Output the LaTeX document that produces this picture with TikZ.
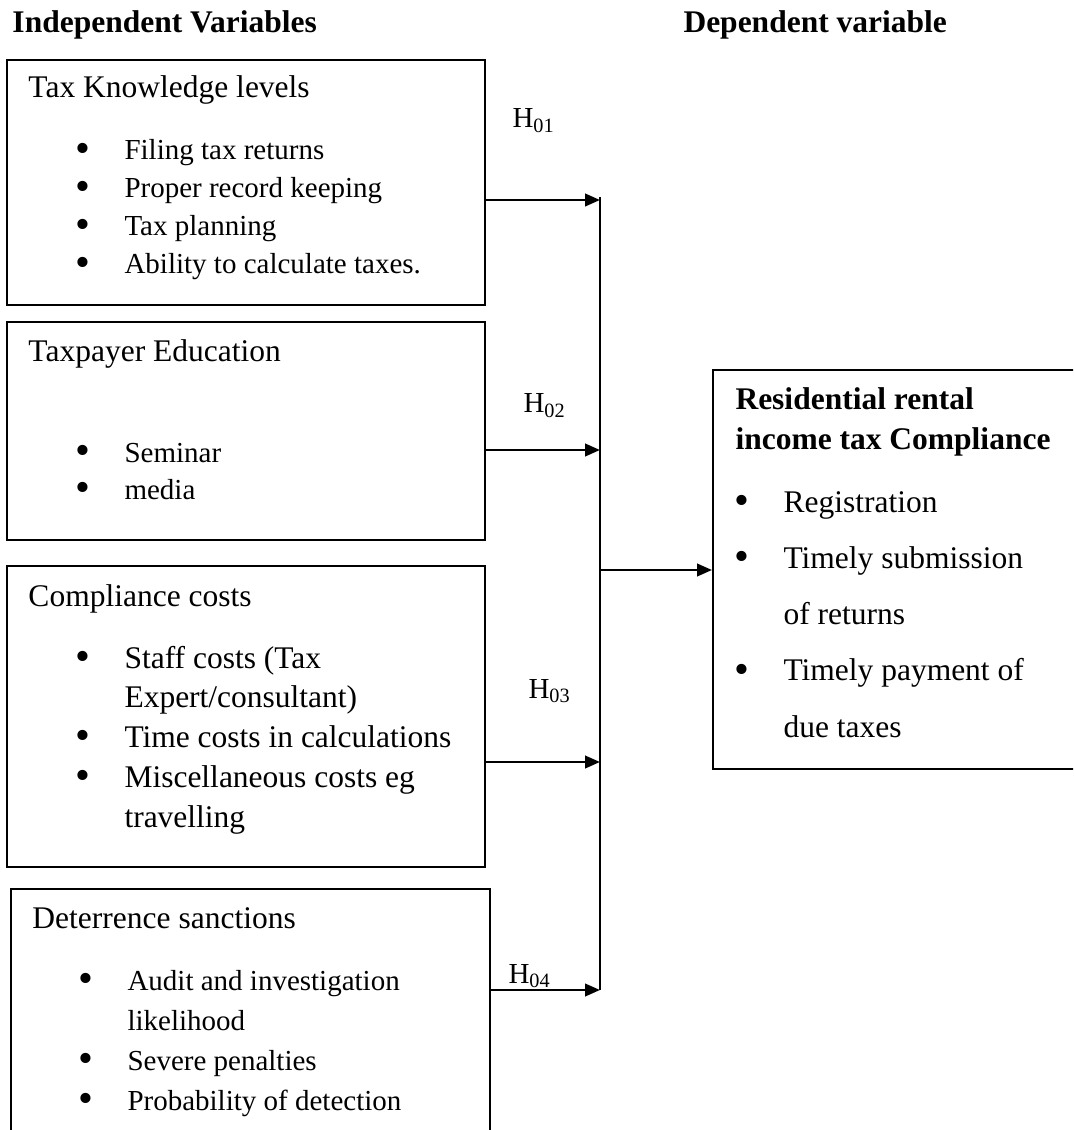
\documentclass[tikz,border=0pt]{standalone}
\usepackage{fontspec}
\setmainfont{Liberation Serif}
\usetikzlibrary{arrows.meta,positioning,fit}

\newcommand{\bul}{\llap{\smash{\raisebox{-0.9pt}{\fontsize{17}{17}\selectfont\textbullet}}\hspace{13.8pt}}}

\begin{document}
\begin{tikzpicture}[
    x=0.4pt, y=-0.4pt,
    varbox/.style={rectangle, draw=black, line width=0.8pt, inner sep=0pt},
    heading/.style={anchor=base west, inner sep=0pt, font=\fontsize{12.6}{15}\selectfont},
    title/.style={anchor=base west, inner sep=0pt, font=\fontsize{12.6}{16}\selectfont\bfseries},
    itemlist/.style args={#1/#2}{anchor=base west, inner sep=0pt, font=\fontsize{#1}{#2}\selectfont},
    hyp/.style={anchor=base west, inner sep=0pt, font=\fontsize{11.6}{14}\selectfont},
    link/.style={-{Triangle[length=6pt,width=5pt]}, line width=1pt},
    bus/.style={line width=0.8pt}
]

\clip (0,0) rectangle (1073,1130);

\node[title] (indep) at (12,33) {Independent Variables};
\node[title] (dep) at (683,33) {Dependent variable};

% independent variables
\node[varbox, fit={(7,60) (485,305)}] (know) {};
\node[heading] (knowhead) at (28,98) {Tax Knowledge levels};
\node[itemlist=11.6/15.2] (knowlist) at (124,160) {\begin{tabular}[t]{@{}l@{}}
    \bul Filing tax returns\\
    \bul Proper record keeping\\
    \bul Tax planning\\
    \bul Ability to calculate taxes.
\end{tabular}};

\node[varbox, fit={(7,322) (485,540)}] (educ) {};
\node[heading] (educhead) at (28,362) {Taxpayer Education};
\node[itemlist=11.6/14.8] (educlist) at (124,462) {\begin{tabular}[t]{@{}l@{}}
    \bul Seminar\\
    \bul media
\end{tabular}};

\node[varbox, fit={(7,566) (485,867)}] (cost) {};
\node[heading] (costhead) at (28,606) {Compliance costs};
\node[itemlist=12.6/15.9] (costlist) at (124,668) {\begin{tabular}[t]{@{}l@{}}
    \bul Staff costs (Tax\\
    Expert/consultant)\\
    \bul Time costs in calculations\\
    \bul Miscellaneous costs eg\\
    travelling
\end{tabular}};

\node[varbox, fit={(11,889) (490,1160)}] (deter) {};
\node[heading] (deterhead) at (32,928) {Deterrence sanctions};
\node[itemlist=11.6/16] (deterlist) at (127,990) {\begin{tabular}[t]{@{}l@{}}
    \bul Audit and investigation\\
    likelihood\\
    \bul Severe penalties\\
    \bul Probability of detection
\end{tabular}};

% dependent variable
\node[varbox, fit={(713,370) (1100,769)}] (comply) {};
\node[title] (complyhead) at (735,410) {\begin{tabular}[t]{@{}l@{}}
    Residential rental\\
    income tax Compliance
\end{tabular}};
\node[itemlist=12.6/22.5] (complylist) at (783,512) {\begin{tabular}[t]{@{}l@{}}
    \bul Registration\\
    \bul Timely submission\\
    of returns\\
    \bul Timely payment of\\
    due taxes
\end{tabular}};

% hypotheses
\node[hyp] (h1) at (512,128) {H\textsubscript{01}};
\node[hyp] (h2) at (523,413) {H\textsubscript{02}};
\node[hyp] (h3) at (528,698) {H\textsubscript{03}};
\node[hyp] (h4) at (508,983) {H\textsubscript{04}};

\coordinate (j1) at (600,200);
\coordinate (j2) at (600,450);
\coordinate (j3) at (600,762);
\coordinate (j4) at (600,990);
\coordinate (jm) at (600,570);

\draw[link] (know.east |- j1) -- (j1);
\draw[link] (educ.east |- j2) -- (j2);
\draw[link] (cost.east |- j3) -- (j3);
\draw[link] (deter.east |- j4) -- (j4);
\draw[bus] ([yshift=1.2pt]j1) -- (j4);
\draw[link] (jm) -- (comply.west |- jm);

\end{tikzpicture}
\end{document}
